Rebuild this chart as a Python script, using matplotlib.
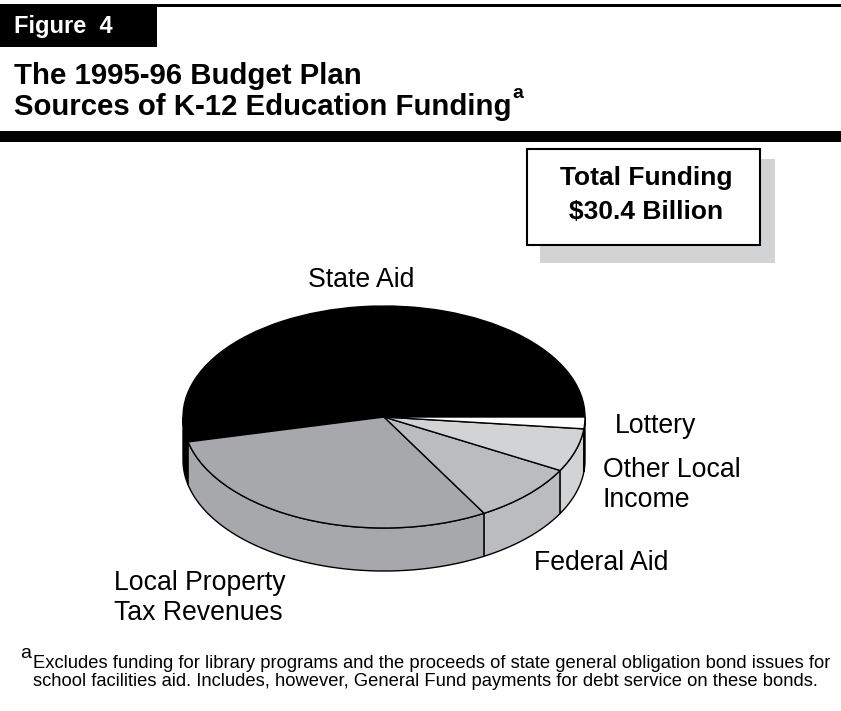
import matplotlib
matplotlib.use('Agg')
import matplotlib.pyplot as plt
from matplotlib.patches import Rectangle
import numpy as np

plt.rcParams['font.family'] = ['Liberation Sans', 'DejaVu Sans']

# pourcentages, dans le sens antihoraire depuis la droite
categories = ['State Aid', 'Local Property\nTax Revenues', 'Federal Aid', 'Other Local\nIncome', 'Lottery']
shares = [53.6, 29.7, 8.7, 6.3, 1.7]
top_colors = ['#000000', '#a7a8ab', '#bbbcc0', '#d1d3d4', '#ffffff']
wall_colors = ['#000000', '#a7a8ab', '#bbbcc0', '#d1d3d4', '#000000']

label_x = [308, 114, 534, 603, 615]
label_y = [280, 598, 563, 485, 426]

W, H = 841, 711
fig = plt.figure(figsize=(W / 100, H / 100), dpi=100)

# calque en pixels pour le cadre et les textes
bg = fig.add_axes([0, 0, 1, 1])
bg.set_xlim(0, W)
bg.set_ylim(H, 0)
bg.axis('off')

bg.add_patch(Rectangle((0, 4), W, 3, color='black', lw=0))
bg.add_patch(Rectangle((0, 4), 157, 43, color='black', lw=0))
bg.add_patch(Rectangle((0, 131), W, 11, color='black', lw=0))
bg.text(14, 26, 'Figure  4', color='white', fontsize=17, fontweight='bold', va='center')
bg.text(14, 76, 'The 1995-96 Budget Plan', fontsize=21.2, fontweight='bold', va='center')
bg.text(14, 107, 'Sources of K-12 Education Funding', fontsize=21.2, fontweight='bold', va='center')
bg.text(512, 94, 'a', fontsize=14, fontweight='bold', va='center')

bg.add_patch(Rectangle((540, 159), 235, 104, color='#d1d3d4', lw=0))
bg.add_patch(Rectangle((527, 149), 233, 96, fc='white', ec='black', lw=1.5))
bg.text(646, 178, 'Total Funding', fontsize=19, fontweight='bold', ha='center', va='center')
bg.text(646, 212, '$30.4 Billion', fontsize=19, fontweight='bold', ha='center', va='center')

for name, x, y in zip(categories, label_x, label_y):
    bg.text(x, y, name, fontsize=19.2, ha='left', va='center', linespacing=1.24)

bg.text(20, 654, 'a', fontsize=14, va='center')
bg.text(33, 663, 'Excludes funding for library programs and the proceeds of state general obligation bond issues for',
        fontsize=13.2, va='center')
bg.text(33, 681, 'school facilities aid. Includes, however, General Fund payments for debt service on these bonds.',
        fontsize=13.2, va='center')

# camembert : ellipse 201 x 111 px, epaisseur 43 px
cx, cy, rx, ry, depth = 384, 417, 201, 111, 43
ax = fig.add_axes([(cx - rx) / W, 1 - (cy + ry + depth) / H, 2 * rx / W, (2 * ry + depth) / H])
d = depth / ry

edges = 360 * np.cumsum([0] + shares) / sum(shares)
for a0, a1, col in zip(edges[:-1], edges[1:], wall_colors):
    a0, a1 = max(a0, 180), max(a1, 180)
    if a1 <= a0:
        continue
    t = np.radians(np.linspace(a0, a1, 80))
    xs = np.r_[np.cos(t), np.cos(t[::-1])]
    ys = np.r_[np.sin(t), np.sin(t[::-1]) - d]
    ax.fill(xs, ys, fc=col, ec='black', lw=1, clip_on=False, zorder=0)

ax.pie(shares, colors=top_colors, startangle=0, counterclock=True, radius=1,
       wedgeprops={'edgecolor': 'black', 'linewidth': 1, 'clip_on': False})
ax.set_aspect('auto')
ax.set_xlim(-1, 1)
ax.set_ylim(-1 - d, 1)
ax.axis('off')

fig.savefig('out.png', dpi=100)
